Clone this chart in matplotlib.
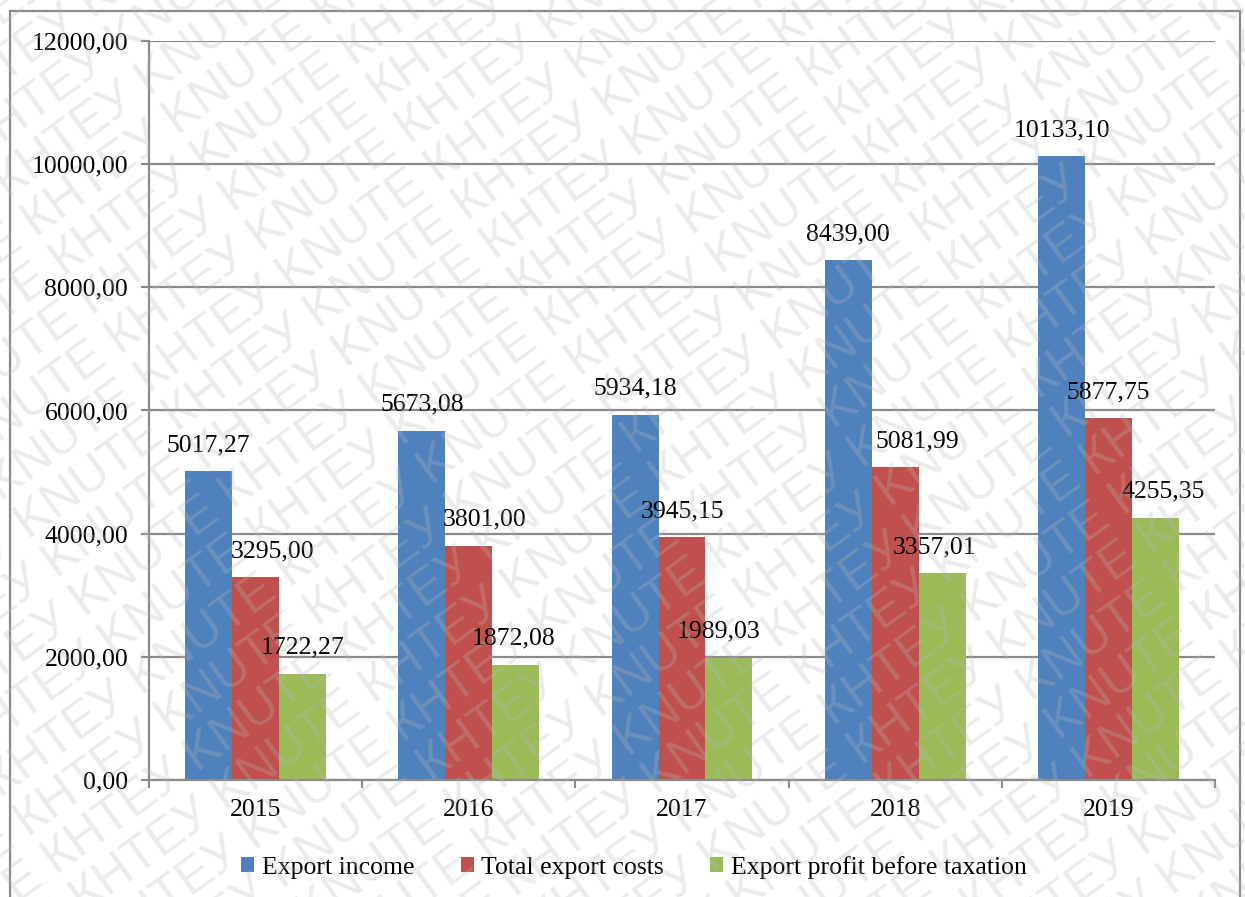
import numpy as np
import matplotlib
matplotlib.use("Agg")
import matplotlib.pyplot as plt
from matplotlib.patches import Rectangle
from matplotlib.ticker import FixedLocator

years = ["2015", "2016", "2017", "2018", "2019"]
export_income = [5017.27, 5673.08, 5934.18, 8439.00, 10133.10]
export_costs = [3295.00, 3801.00, 3945.15, 5081.99, 5877.75]
export_profit = [1722.27, 1872.08, 1989.03, 3357.01, 4255.35]
series_names = ["Export income", "Total export costs", "Export profit before taxation"]
y_ticks = [0, 2000, 4000, 6000, 8000, 10000, 12000]

colors = ["#4F81BD", "#C0504D", "#9BBB59"]
# horizontal nudges of the value labels (pixels), as in the original layout
label_dx = [[0, 0, 0, 0, 0],
            [17, 16, 0, 22, 0],
            [0, -2, -10, -8, 8]]

W, H = 1245, 897
fig = plt.figure(figsize=(W / 100, H / 100), dpi=100)
fig.patch.set_facecolor("white")
ax = fig.add_axes([149 / W, 1 - 780 / H, (1215 - 149) / W, (780 - 41) / H])

serif = ["Liberation Serif", "DejaVu Serif"]
fs = 18.5
grid_c = "#8a8a8a"

x = np.arange(len(years))
bw = 0.22
all_series = [export_income, export_costs, export_profit]
for i, (vals, c, name) in enumerate(zip(all_series, colors, series_names)):
    pos = x + (i - 1) * bw
    ax.bar(pos, vals, width=bw, color=c, label=name, zorder=3)
    for j, (p, v) in enumerate(zip(pos, vals)):
        ax.annotate(f"{v:.2f}".replace(".", ","), xy=(p, v),
                    xytext=(label_dx[i][j] * 0.72, 26 * 0.72),
                    textcoords="offset points", ha="center", va="center",
                    fontsize=fs, family=serif, color="black", zorder=5)

ax.set_xlim(-0.5, len(years) - 0.5)
ax.set_ylim(0, 12000)
ax.set_yticks(y_ticks)
ax.set_yticklabels([f"{t:.2f}".replace(".", ",") for t in y_ticks],
                   fontsize=fs, family=serif)
ax.set_xticks(x)
ax.set_xticklabels(years, fontsize=fs, family=serif)
ax.xaxis.set_minor_locator(FixedLocator(np.arange(-0.5, len(years), 1.0)))
ax.tick_params(axis="x", which="major", length=0, pad=14)
ax.tick_params(axis="x", which="minor", length=6, width=1.5, color=grid_c)
ax.tick_params(axis="y", length=6, width=1.5, color=grid_c, pad=9)
ax.yaxis.grid(True, color=grid_c, linewidth=1.6, zorder=0)
ax.set_axisbelow(True)
for s in ["top", "right"]:
    ax.spines[s].set_visible(False)
for s in ["left", "bottom"]:
    ax.spines[s].set_color(grid_c)
    ax.spines[s].set_linewidth(1.6)
ax.spines["bottom"].set_zorder(4)

ax.legend(loc="center", bbox_to_anchor=(0.455, -0.118), ncol=3, frameon=False,
          prop={"family": serif, "size": fs}, handlelength=0.5,
          handleheight=0.5, handletextpad=0.3, columnspacing=1.8)

# outer frame
fig.patches.append(Rectangle((10 / W, -0.2), (1240 - 10) / W, 1.2 - 11 / H,
                             transform=fig.transFigure, fill=False,
                             edgecolor=grid_c, linewidth=1.6, zorder=1))

# watermark
ang = 36
rad = np.deg2rad(ang)
wm = ("КНТЕУ KNUTE " * 10).strip()
nx, ny = -np.sin(rad), np.cos(rad)
step = 48
for k in range(-26, 27):
    cx = W / 2 + nx * step * k
    cy = H / 2 + ny * step * k
    t = fig.text(cx / W, cy / H, wm, rotation=ang, rotation_mode="anchor",
                 ha="center", va="center", fontsize=36,
                 family=["Liberation Sans", "DejaVu Sans"],
                 color="#b8b8b8", alpha=0.28, zorder=10)
    t.set_clip_on(True)
    t.set_clip_box(fig.bbox)

fig.savefig("out.png", dpi=100)
